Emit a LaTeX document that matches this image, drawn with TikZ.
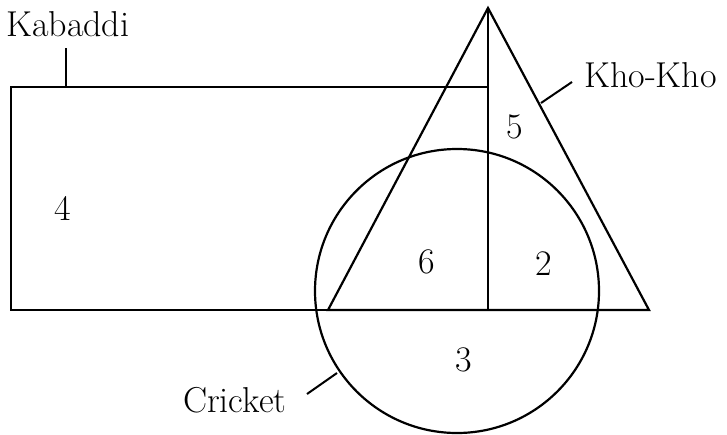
\documentclass[tikz,border=0pt]{standalone}
\usepackage{tikz}
\usetikzlibrary{calc}

\begin{document}
\begin{tikzpicture}[
  x=1pt,y=-1pt,
  setline/.style={line width=2.2pt},
  leader/.style={line width=2pt},
  lbl/.style={inner sep=0pt,font=\fontsize{36}{42}\selectfont},
  tag/.style={lbl,anchor=base west}
]
\useasboundingbox (0,0) rectangle (727,434);
% corner points
\coordinate (apex) at (488,8);
\coordinate (tl) at (11,87);
\coordinate (tr) at (488,87);
\coordinate (br) at (488,310);
\coordinate (bl) at (11,310);
\coordinate (baseL) at (328,310);
\coordinate (baseR) at (649,310);
\coordinate (ctr) at (457,291);
% the three sets
\draw[setline] (tl) -- (tr) -- (br) -- (bl) -- cycle;
\draw[setline] (tr) -- (apex);
\draw[setline] (apex) -- (baseR) -- (baseL) -- cycle;
\draw[setline] (ctr) circle[radius=142pt];
% names
\node[tag] (kab) at (6,36) {Kabaddi};
\node[tag] (kho) at (584,87) {Kho-Kho};
\node[tag] (cri) at (183,412) {Cricket};
\coordinate (kabA) at (66,48);
\coordinate (kabB) at (66,87);
\coordinate (khoA) at (572,82);
\coordinate (khoB) at (541,103);
\coordinate (criA) at (307,394);
\coordinate (criB) at (337,373);
\draw[leader] (kabA) -- (kabB);
\draw[leader] (khoA) -- (khoB);
\draw[leader] (criA) -- (criB);
% counts
\node[lbl] (n4) at (63,208) {4};
\node[lbl] (n5) at (515,127) {5};
\node[lbl] (n6) at (427,262) {6};
\node[lbl] (n2) at (544,264) {2};
\node[lbl] (n3) at (464,360) {3};
\end{tikzpicture}
\end{document}
